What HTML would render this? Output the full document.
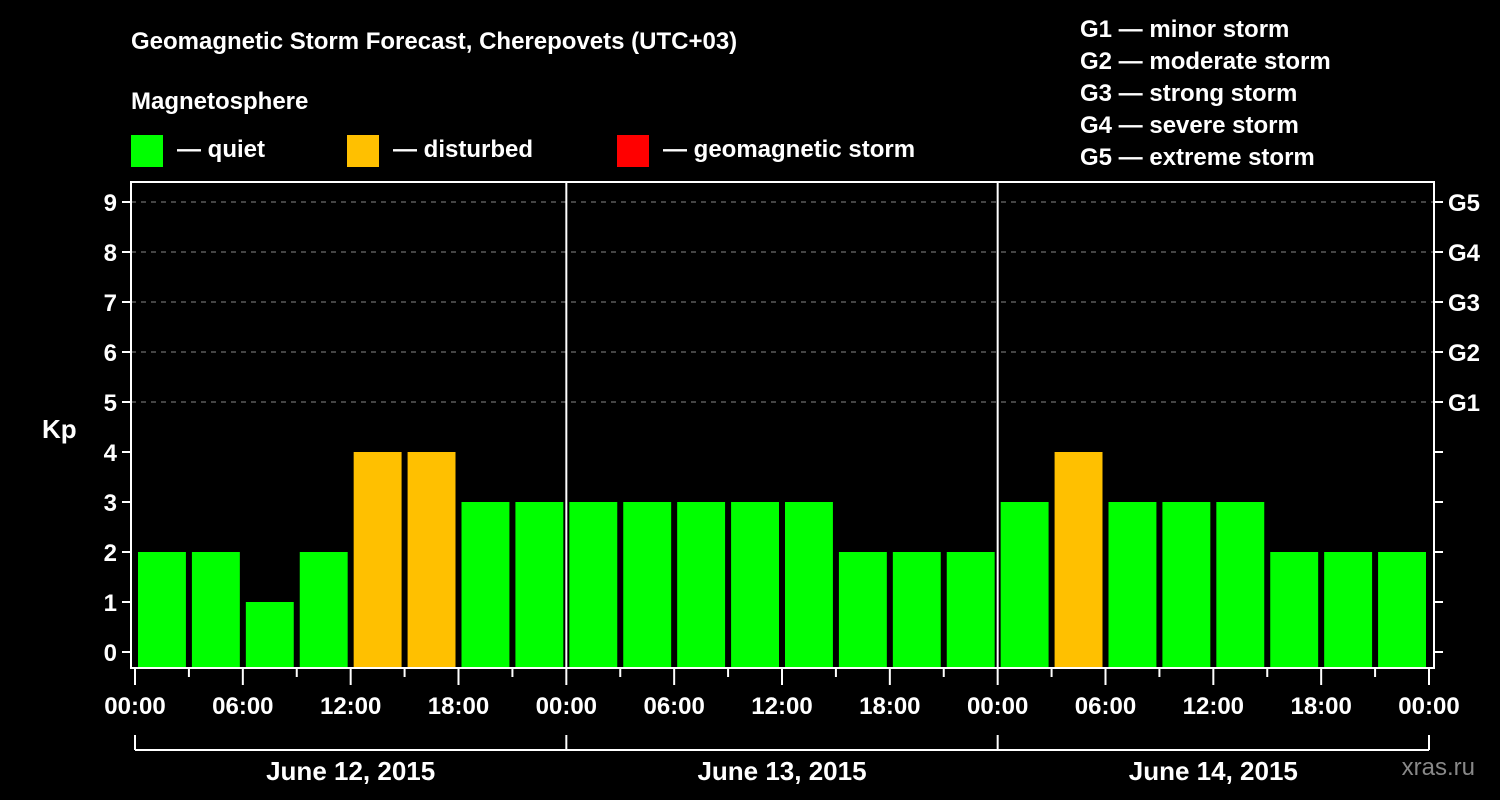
<!DOCTYPE html>
<html><head><meta charset="utf-8"><style>
body{margin:0;background:#000;}
svg{display:block;font-family:"Liberation Sans",sans-serif;font-weight:bold;}
</style></head><body>
<svg width="1500" height="800" viewBox="0 0 1500 800">
<rect width="1500" height="800" fill="#000"/>
<text x="131" y="49" fill="#fff" font-size="24">Geomagnetic Storm Forecast, Cherepovets (UTC+03)</text>
<text x="131" y="109" fill="#fff" font-size="24">Magnetosphere</text>
<g><rect x="131" y="135" width="32" height="32" fill="#00ff00"/><text x="177" y="157" fill="#fff" font-size="24">— quiet</text></g>
<g><rect x="347" y="135" width="32" height="32" fill="#ffc000"/><text x="393" y="157" fill="#fff" font-size="24">— disturbed</text></g>
<g><rect x="617" y="135" width="32" height="32" fill="#ff0000"/><text x="663" y="157" fill="#fff" font-size="24">— geomagnetic storm</text></g>
<g fill="#fff" font-size="24">
<text x="1080" y="37">G1 — minor storm</text>
<text x="1080" y="69">G2 — moderate storm</text>
<text x="1080" y="101">G3 — strong storm</text>
<text x="1080" y="133">G4 — severe storm</text>
<text x="1080" y="165">G5 — extreme storm</text>
</g>
<text x="42" y="438" fill="#fff" font-size="26">Kp</text>
<text x="1475" y="775" fill="#888" font-size="24" text-anchor="end" font-weight="normal">xras.ru</text>
<g id="plot"></g>
</svg>
<script>
const kpValues=[2,2,1,2,4,4,3,3, 3,3,3,3,3,2,2,2, 3,4,3,3,3,2,2,2];
const dayLabels=["June 12, 2015","June 13, 2015","June 14, 2015"];
const hourLabels=["00:00","06:00","12:00","18:00"];
const gLabels=["G1","G2","G3","G4","G5"];
const X0=135,X1=1429,L=131,R=1434,T=182,B=668;
const totalH=72;
const x=h=>X0+(X1-X0)*h/totalH;
const y=v=>652-50*v;
const NS="http://www.w3.org/2000/svg";
const g=document.getElementById('plot');
function mk(t,a,txt){const e=document.createElementNS(NS,t);for(const k in a)e.setAttribute(k,a[k]);if(txt!=null)e.textContent=txt;g.appendChild(e);return e;}
// grid
for(let v=5;v<=9;v++){
 const e=mk('line',{x1:L,x2:R,y1:y(v),y2:y(v),stroke:'#888','stroke-dasharray':'5,5'});
 
 
}
// bars
kpValues.forEach((v,i)=>{
 const c=v>=5?'#ff0000':(v>=4?'#ffc000':'#00ff00');
 const x0=x(i*3)+3,x1=x((i+1)*3)-3;
 const e=mk('rect',{x:x0,y:y(v),width:x1-x0,height:B-y(v),fill:c});
 
 
});
// frame
const fr=mk('rect',{x:L,y:T,width:R-L,height:B-T,fill:'none',stroke:'#fff','stroke-width':2});


for(let d=1;d<3;d++){
 const e=mk('line',{x1:x(d*24),x2:x(d*24),y1:T,y2:B,stroke:'#fff','stroke-width':2});
 
 
}
// y ticks
for(let v=0;v<=9;v++){
 mk('line',{x1:L-9,x2:L,y1:y(v),y2:y(v),stroke:'#fff','stroke-width':2});
 mk('line',{x1:R,x2:R+9,y1:y(v),y2:y(v),stroke:'#fff','stroke-width':2});
 const t=mk('text',{x:L-14,y:y(v)+9,fill:'#fff','font-size':24,'text-anchor':'end'},String(v));
 
 
}
gLabels.forEach((s,i)=>{
 const t=mk('text',{x:R+14,y:y(5+i)+9,fill:'#fff','font-size':24},s);
 
 
});
// x ticks
for(let h=0;h<=totalH;h+=3){
 const long=h%6===0;
 mk('line',{x1:x(h),x2:x(h),y1:B,y2:B+(long?17:9),stroke:'#fff','stroke-width':2});
 if(long){
  const t=mk('text',{x:x(h),y:B+46,fill:'#fff','font-size':24,'text-anchor':'middle'},hourLabels[(h/6)%4]);
  
  
 }
}
// day brackets
mk('line',{x1:X0,x2:X1,y1:750,y2:750,stroke:'#fff','stroke-width':2});
for(let d=0;d<=3;d++) mk('line',{x1:x(d*24),x2:x(d*24),y1:735,y2:750,stroke:'#fff','stroke-width':2});
dayLabels.forEach((s,d)=>{
 const t=mk('text',{x:x(d*24+12),y:780,fill:'#fff','font-size':26,'text-anchor':'middle'},s);
 
 
});
</script>
</body></html>
